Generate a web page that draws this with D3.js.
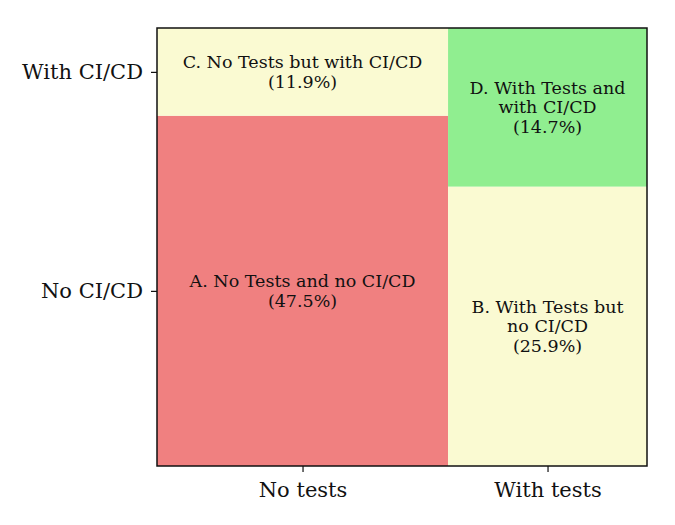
<!DOCTYPE html>
<html>
<head>
<meta charset="utf-8">
<style>
  body { margin: 0; background: #fff; }
  text { font-family: "DejaVu Serif", serif; fill: #111; }
</style>
</head>
<body>
<svg width="675" height="525"></svg>
<script src="https://cdn.jsdelivr.net/npm/d3@7"></script>
<script>

var testCats = ["No tests", "With tests"],
    ciCats = ["No CI/CD", "With CI/CD"];

// share of repos in percent, [test][ci]
var shares = [[47.5, 11.9], [25.9, 14.7]];

var cellLabels = [
  [["A. No Tests and no CI/CD", "(47.5%)"], ["C. No Tests but with CI/CD", "(11.9%)"]],
  [["B. With Tests but", "no CI/CD", "(25.9%)"], ["D. With Tests and", "with CI/CD", "(14.7%)"]]
];

var cellColors = [["#f08080", "#fafad2"], ["#fafad2", "#90ee90"]];

var svg = d3.select("svg"),
    margin = {top: 28, right: 28, bottom: 59, left: 157},
    width = +svg.attr("width") - margin.left - margin.right,
    height = +svg.attr("height") - margin.top - margin.bottom,
    g = svg.append("g").attr("transform", "translate(" + margin.left + "," + margin.top + ")");

var x = d3.scaleLinear().domain([0, 1]).range([0, width]);
var y = d3.scaleLinear().domain([0, 1]).range([height, 0]);

var total = d3.sum(shares, function(d) { return d3.sum(d); });

// build mosaic cells
var cells = [], x0 = 0;
shares.forEach(function(col, i) {
  var colTotal = d3.sum(col), w = colTotal / total, y0 = 0;
  col.forEach(function(v, j) {
    var h = v / colTotal;
    cells.push({i: i, j: j, x0: x0, x1: x0 + w, y0: y0, y1: y0 + h});
    y0 += h;
  });
  x0 += w;
});

g.selectAll("rect.cell")
    .data(cells)
  .enter().append("rect")
    .attr("class", "cell")
    .attr("x", function(d) { return x(d.x0); })
    .attr("y", function(d) { return y(d.y1); })
    .attr("width", function(d) { return x(d.x1) - x(d.x0); })
    .attr("height", function(d) { return y(d.y0) - y(d.y1); })
    .attr("fill", function(d) { return cellColors[d.i][d.j]; });

var lineH = 19.5;
g.selectAll("text.cell")
    .data(cells)
  .enter().append("text")
    .attr("class", "cell")
    .attr("text-anchor", "middle")
    .attr("font-size", "17.5px")
    .each(function(d) {
      var lines = cellLabels[d.i][d.j],
          cx = x((d.x0 + d.x1) / 2),
          cy = y((d.y0 + d.y1) / 2),
          start = cy - (lines.length - 1) * lineH / 2;
      var t = d3.select(this);
      lines.forEach(function(s, k) {
        t.append("tspan")
            .attr("x", cx)
            .attr("y", start + k * lineH)
            .attr("dy", "0.35em")
            .text(s);
      });
    });

// ticks: x at column centres, y at first column's cell centres
var xTicks = cells.filter(function(d) { return d.j === 0; })
    .map(function(d) { return {v: (d.x0 + d.x1) / 2, label: testCats[d.i]}; });
var yTicks = cells.filter(function(d) { return d.i === 0; })
    .map(function(d) { return {v: (d.y0 + d.y1) / 2, label: ciCats[d.j]}; });

var xAxis = d3.axisBottom(x)
    .tickValues(xTicks.map(function(d) { return d.v; }))
    .tickFormat(function(d, k) { return xTicks[k].label; })
    .tickSize(6).tickPadding(10);

var yAxis = d3.axisLeft(y)
    .tickValues(yTicks.map(function(d) { return d.v; }))
    .tickFormat(function(d, k) { return yTicks[k].label; })
    .tickSize(6).tickPadding(8);

g.append("g")
    .attr("transform", "translate(0," + height + ")")
    .call(xAxis)
    .call(function(a) { a.select(".domain").remove(); })
    .selectAll("text").attr("font-family", "DejaVu Serif").attr("font-size", "21px").attr("fill", "#111");

g.append("g")
    .call(yAxis)
    .call(function(a) { a.select(".domain").remove(); })
    .selectAll("text").attr("font-family", "DejaVu Serif").attr("font-size", "21px").attr("fill", "#111");

g.selectAll(".tick line").attr("stroke", "#111").attr("stroke-width", 1.2);

g.append("rect")
    .attr("width", width)
    .attr("height", height)
    .attr("fill", "none")
    .attr("stroke", "#111")
    .attr("stroke-width", 1.5);

</script>
</body>
</html>
